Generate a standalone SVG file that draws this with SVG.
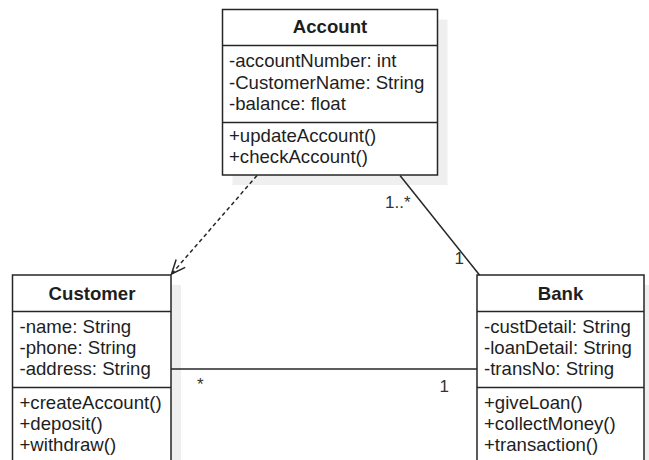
<svg xmlns="http://www.w3.org/2000/svg" width="649" height="460" viewBox="0 0 649 460">
<style>
.shadow{fill:#efefef;stroke:none}
.box{fill:#ffffff;stroke:#262626;stroke-width:1.5}
.div{stroke:#262626;stroke-width:1.5}
.t{font-family:"Liberation Sans",Arial,sans-serif;font-size:18.6px;fill:#1e1e1e}
.h{font-family:"Liberation Sans",Arial,sans-serif;font-size:18.6px;font-weight:bold;fill:#1e1e1e;text-anchor:middle}
.lbl{font-family:"Liberation Sans",Arial,sans-serif;font-size:17px;fill:#333333}
.conn{fill:none;stroke:#262626;stroke-width:1.5}
.dash{stroke-dasharray:4,3}
</style>
<defs>
<marker id="open" markerUnits="userSpaceOnUse" markerWidth="18" markerHeight="16" refX="15" refY="7" orient="auto" viewBox="0 0 18 16">
<path d="M1,1 L15,7 L1,13" fill="none" stroke="#262626" stroke-width="1.5"/>
</marker>
</defs>
<rect width="649" height="460" fill="#ffffff"/>
<g id="shadows">
<rect class="shadow" x="232.5" y="19.5" width="215" height="165.5"/>
<rect class="shadow" x="22.5" y="285" width="158.5" height="200"/>
<rect class="shadow" x="487" y="285" width="167" height="200"/>
</g>
<g id="Account">
<rect class="box" x="222.5" y="9.5" width="215" height="165.5"/>
<line class="div" x1="222.5" y1="45.5" x2="437.5" y2="45.5"/>
<line class="div" x1="222.5" y1="122.5" x2="437.5" y2="122.5"/>
<text class="h" x="330" y="33">Account</text>
<text class="t" x="229" y="67">-accountNumber: int</text>
<text class="t" x="229" y="89">-CustomerName: String</text>
<text class="t" x="229" y="110">-balance: float</text>
<text class="t" x="229" y="141.5">+updateAccount()</text>
<text class="t" x="229" y="163">+checkAccount()</text>
</g>
<g id="Customer">
<rect class="box" x="12.5" y="275" width="158.5" height="200"/>
<line class="div" x1="12.5" y1="311.5" x2="171" y2="311.5"/>
<line class="div" x1="12.5" y1="387.5" x2="171" y2="387.5"/>
<text class="h" x="92" y="299.5">Customer</text>
<text class="t" x="19.5" y="333">-name: String</text>
<text class="t" x="19.5" y="354">-phone: String</text>
<text class="t" x="19.5" y="375">-address: String</text>
<text class="t" x="19.5" y="408.5">+createAccount()</text>
<text class="t" x="19.5" y="429.5">+deposit()</text>
<text class="t" x="19.5" y="450.5">+withdraw()</text>
</g>
<g id="Bank">
<rect class="box" x="477" y="275" width="167" height="200"/>
<line class="div" x1="477" y1="311.5" x2="644" y2="311.5"/>
<line class="div" x1="477" y1="387.5" x2="644" y2="387.5"/>
<text class="h" x="560.5" y="299.5">Bank</text>
<text class="t" x="484" y="333">-custDetail: String</text>
<text class="t" x="484" y="354">-loanDetail: String</text>
<text class="t" x="484" y="375">-transNo: String</text>
<text class="t" x="484" y="408.5">+giveLoan()</text>
<text class="t" x="484" y="429.5">+collectMoney()</text>
<text class="t" x="484" y="450.5">+transaction()</text>
</g>
<g id="connectors">
<line class="conn dash" x1="257" y1="175.5" x2="171.5" y2="274" marker-end="url(#open)"/>
<line class="conn" x1="400" y1="175.5" x2="479.5" y2="275"/>
<line class="conn" x1="171" y1="369" x2="477" y2="369"/>
<text class="lbl" x="385" y="208">1..*</text>
<text class="lbl" x="454.5" y="264">1</text>
<text class="lbl" x="197" y="390">*</text>
<text class="lbl" x="439.5" y="392">1</text>
</g>
</svg>
